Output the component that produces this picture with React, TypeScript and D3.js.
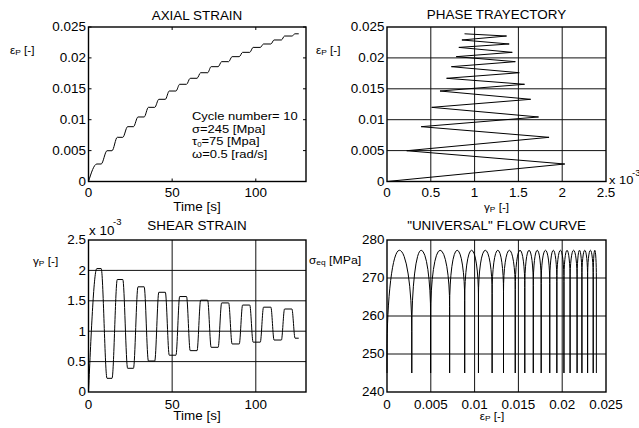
import React from 'react';
import * as d3 from 'd3';

const FONT = '"Liberation Sans", Arial, Helvetica, sans-serif';
const SX = 1.12;

// ---- data ----
// plateaus of the plastic strains (flow stops when sigma_eq < yield)
const PLATEAU_START = [4.98, 11.07, 17.2, 23.38, 29.57, 35.8, 42.03, 48.27, 54.5, 60.78, 67.02, 73.3, 79.58, 85.81, 92.1, 98.38, 104.61, 110.9, 117.18, 123.46];
const PLATEAU_END = [7.58, 14.07, 20.5, 26.88, 33.27, 39.6, 45.93, 52.27, 58.6, 64.88, 71.22, 77.5, 83.78, 90.11, 96.4, 102.68, 109.01, 115.3, 121.58, 125.66];
// shear plastic strain at each plateau (x 10^-3)
const SHEAR_LEVEL = [2.03, 0.225, 1.85, 0.39, 1.73, 0.51, 1.64, 0.605, 1.57, 0.68, 1.51, 0.735, 1.465, 0.79, 1.43, 0.82, 1.395, 0.855, 1.365, 0.885];
// axial plastic strain at each plateau
const AXIAL_LEVEL = [0.00283, 0.00498, 0.00715, 0.00887, 0.01044, 0.012, 0.0133, 0.01464, 0.01573, 0.0167, 0.0176, 0.01858, 0.01939, 0.0202, 0.0209, 0.0217, 0.02225, 0.0229, 0.02354, 0.0239];
// equivalent stress where the flow starts/stops at each plateau (index 0 = start)
const YIELD_LEVEL = [250, 256, 260, 262.5, 264, 265, 266, 266.5, 267, 267.5, 268, 268.5, 268.5, 269, 269, 269.5, 269.5, 270, 270, 270, 270];
const PEAK_SIGMA = 277.3;
const BASE_SIGMA = 245;

const TIME_TICKS = [0, 50, 100];
const AXIAL_TICKS = [0, 0.005, 0.01, 0.015, 0.02, 0.025];
const SHEAR_TICKS = [0, 0.5, 1, 1.5, 2, 2.5];
const SIGMA_TICKS = [240, 250, 260, 270, 280];

const NOTES = ['Cycle number= 10', 'σ=245 [Mpa]', 'τ0=75 [Mpa]', 'ω=0.5 [rad/s]'];

// ---- scales ----
const xT1 = d3.scaleLinear().domain([0, 130]).range([88.5, 306]);
const yA1 = d3.scaleLinear().domain([0, 0.025]).range([181.5, 27]);
const xG2 = d3.scaleLinear().domain([0, 2.5]).range([387, 606]);
const yA2 = d3.scaleLinear().domain([0, 0.025]).range([181.5, 27]);
const xT3 = d3.scaleLinear().domain([0, 130]).range([88.5, 306]);
const yG3 = d3.scaleLinear().domain([0, 2.5]).range([392, 240]);
const xE4 = d3.scaleLinear().domain([0, 0.025]).range([387, 606]);
const yS4 = d3.scaleLinear().domain([240, 280]).range([392, 240]);

function Txt(props: any) {
  const { x, y, anchor = 'start', size = 12, children } = props;
  return (
    <text transform={`translate(${x},${y}) scale(${SX},1)`} textAnchor={anchor} fontSize={size} fontFamily={FONT} fill="#000">
      {children}
    </text>
  );
}

function Frame({ xs, ys }: any) {
  const [x0, x1] = xs.range();
  const [y0, y1] = ys.range();
  return <rect x={x0} y={y1} width={x1 - x0} height={y0 - y1} fill="none" stroke="#000" strokeWidth={1.4} />;
}

function Grid({ xs, ys, xt, yt }: any) {
  const [x0, x1] = xs.range();
  const [y0, y1] = ys.range();
  return (
    <g stroke="#111" strokeWidth={1}>
      {xt.map((v: number) => (
        <line key={'x' + v} x1={xs(v)} x2={xs(v)} y1={y0} y2={y1} />
      ))}
      {yt.map((v: number) => (
        <line key={'y' + v} x1={x0} x2={x1} y1={ys(v)} y2={ys(v)} />
      ))}
    </g>
  );
}

function TickLabels({ xs, ys, xt, yt, xOff }: any) {
  const [x0] = xs.range();
  const [y0] = ys.range();
  return (
    <g>
      {xt.map((v: number) => (
        <Txt key={'x' + v} x={xs(v)} y={y0 + xOff} anchor="middle">
          {String(v)}
        </Txt>
      ))}
      {yt.map((v: number) => (
        <Txt key={'y' + v} x={x0 - 2.5} y={ys(v) + 4.3} anchor="end">
          {String(v)}
        </Txt>
      ))}
    </g>
  );
}

function timeSeries(levels: number[]) {
  const pts: [number, number][] = [[0, 0]];
  levels.forEach((v, i) => {
    pts.push([PLATEAU_START[i], v]);
    pts.push([PLATEAU_END[i], v]);
  });
  return pts;
}

function flowPath() {
  const eps = [0, ...AXIAL_LEVEL];
  const parts: string[] = [];
  parts.push(`M${xE4(0)},${yS4(BASE_SIGMA)}`);
  parts.push(`L${xE4(0)},${yS4(YIELD_LEVEL[0])}`);
  const yt = yS4(PEAK_SIGMA);
  for (let k = 0; k < AXIAL_LEVEL.length; k++) {
    const xa = xE4(eps[k]);
    const xb = xE4(eps[k + 1]);
    const xm = (xa + xb) / 2;
    const ya = yS4(YIELD_LEVEL[k]);
    const yb = yS4(YIELD_LEVEL[k + 1]);
    parts.push(`A${xm - xa},${ya - yt} 0 0 1 ${xm},${yt}`);
    parts.push(`A${xb - xm},${yb - yt} 0 0 1 ${xb},${yb}`);
    parts.push(`L${xb},${yS4(BASE_SIGMA)}`);
    if (k < AXIAL_LEVEL.length - 1) parts.push(`L${xb},${yb}`);
  }
  return parts.join(' ');
}

export default function App() {
  const axialPts = timeSeries(AXIAL_LEVEL);
  const shearPts = timeSeries(SHEAR_LEVEL);
  const axialLine = d3.line<[number, number]>().x((d) => xT1(d[0])).y((d) => yA1(d[1])).curve(d3.curveMonotoneX)(axialPts) || '';
  const shearLine = d3.line<[number, number]>().x((d) => xT3(d[0])).y((d) => yG3(d[1])).curve(d3.curveMonotoneX)(shearPts) || '';
  const phasePts: [number, number][] = [[0, 0], ...SHEAR_LEVEL.map((g, i) => [g, AXIAL_LEVEL[i]] as [number, number])];
  const phaseLine = d3.line<[number, number]>().x((d) => xG2(d[0])).y((d) => yA2(d[1]))(phasePts) || '';

  const [p1x0, p1x1] = xT1.range();
  const [p1y0, p1y1] = yA1.range();
  const tl = 3;

  return (
    <svg width={639} height={428} style={{ position: 'absolute', left: 0, top: 0, background: '#fff' }}>
      <rect x={0} y={0} width={639} height={428} fill="#fff" />

      {/* Panel 1: axial strain */}
      <g stroke="#000" strokeWidth={1}>
        {TIME_TICKS.map((v) => (
          <g key={'t' + v}>
            <line x1={xT1(v)} x2={xT1(v)} y1={p1y0} y2={p1y0 - tl} />
            <line x1={xT1(v)} x2={xT1(v)} y1={p1y1} y2={p1y1 + tl} />
          </g>
        ))}
        {AXIAL_TICKS.map((v) => (
          <g key={'a' + v}>
            <line x1={p1x0} x2={p1x0 + tl} y1={yA1(v)} y2={yA1(v)} />
            <line x1={p1x1} x2={p1x1 - tl} y1={yA1(v)} y2={yA1(v)} />
          </g>
        ))}
      </g>
      <path d={axialLine} fill="none" stroke="#000" strokeWidth={1} />
      <Frame xs={xT1} ys={yA1} />
      <TickLabels xs={xT1} ys={yA1} xt={TIME_TICKS} yt={AXIAL_TICKS} xOff={15.5} />
      <Txt x={197} y={19.5} anchor="middle">AXIAL STRAIN</Txt>
      <Txt x={197} y={211} anchor="middle">Time [s]</Txt>
      <Txt x={10} y={54} size={10.5}>
        ε<tspan fontSize={7.5} dy={1}>P</tspan>
        <tspan dy={-1}> [-]</tspan>
      </Txt>
      {NOTES.map((n, i) => (
        <Txt key={n} x={192} y={120 + i * 12.5} size={11.6}>
          {n === 'τ0=75 [Mpa]' ? (
            <>
              τ<tspan fontSize={7} dy={1.5}>0</tspan>
              <tspan dy={-1.5}>=75 [Mpa]</tspan>
            </>
          ) : (
            n
          )}
        </Txt>
      ))}

      {/* Panel 2: phase trajectory */}
      <Grid xs={xG2} ys={yA2} xt={[0.5, 1, 1.5, 2]} yt={[0.005, 0.01, 0.015, 0.02]} />
      <path d={phaseLine} fill="none" stroke="#000" strokeWidth={1} />
      <Frame xs={xG2} ys={yA2} />
      <TickLabels xs={xG2} ys={yA2} xt={SHEAR_TICKS} yt={AXIAL_TICKS} xOff={15.5} />
      <Txt x={496.5} y={19} anchor="middle">PHASE TRAYECTORY</Txt>
      <Txt x={496.5} y={211} anchor="middle" size={10.5}>
        γ<tspan fontSize={7.5} dy={1}>P</tspan>
        <tspan dy={-1}> [-]</tspan>
      </Txt>
      <Txt x={316} y={54} size={10.5}>
        ε<tspan fontSize={7.5} dy={1}>P</tspan>
        <tspan dy={-1}> [-]</tspan>
      </Txt>
      <Txt x={609} y={184} size={11.5}>x 10</Txt>
      <Txt x={632} y={175.5} size={8.5}>-3</Txt>

      {/* Panel 3: shear strain */}
      <Grid xs={xT3} ys={yG3} xt={[50, 100]} yt={[0.5, 1, 1.5, 2]} />
      <path d={shearLine} fill="none" stroke="#000" strokeWidth={1} />
      <Frame xs={xT3} ys={yG3} />
      <TickLabels xs={xT3} ys={yG3} xt={TIME_TICKS} yt={SHEAR_TICKS} xOff={16.5} />
      <Txt x={197} y={229.5} anchor="middle">SHEAR STRAIN</Txt>
      <Txt x={197} y={419.5} anchor="middle">Time [s]</Txt>
      <Txt x={89} y={235}>x 10</Txt>
      <Txt x={113} y={225} size={8.5}>-3</Txt>
      <Txt x={33} y={265} size={10.5}>
        γ<tspan fontSize={7.5} dy={1}>P</tspan>
        <tspan dy={-1}> [-]</tspan>
      </Txt>

      {/* Panel 4: universal flow curve */}
      <Grid xs={xE4} ys={yS4} xt={[0.005, 0.01, 0.015, 0.02]} yt={[250, 260, 270]} />
      <path d={flowPath()} fill="none" stroke="#000" strokeWidth={1} />
      <Frame xs={xE4} ys={yS4} />
      <TickLabels xs={xE4} ys={yS4} xt={AXIAL_TICKS} yt={SIGMA_TICKS} xOff={16.5} />
      <Txt x={496.5} y={230} anchor="middle">"UNIVERSAL" FLOW CURVE</Txt>
      <Txt x={492} y={420} anchor="middle" size={10.5}>
        ε<tspan fontSize={7.5} dy={1}>P</tspan>
        <tspan dy={-1}> [-]</tspan>
      </Txt>
      <Txt x={309} y={264} size={10.5}>
        σ<tspan fontSize={7.5} dy={1}>eq</tspan>
        <tspan dy={-1} fontSize={11}> [MPa]</tspan>
      </Txt>
    </svg>
  );
}
